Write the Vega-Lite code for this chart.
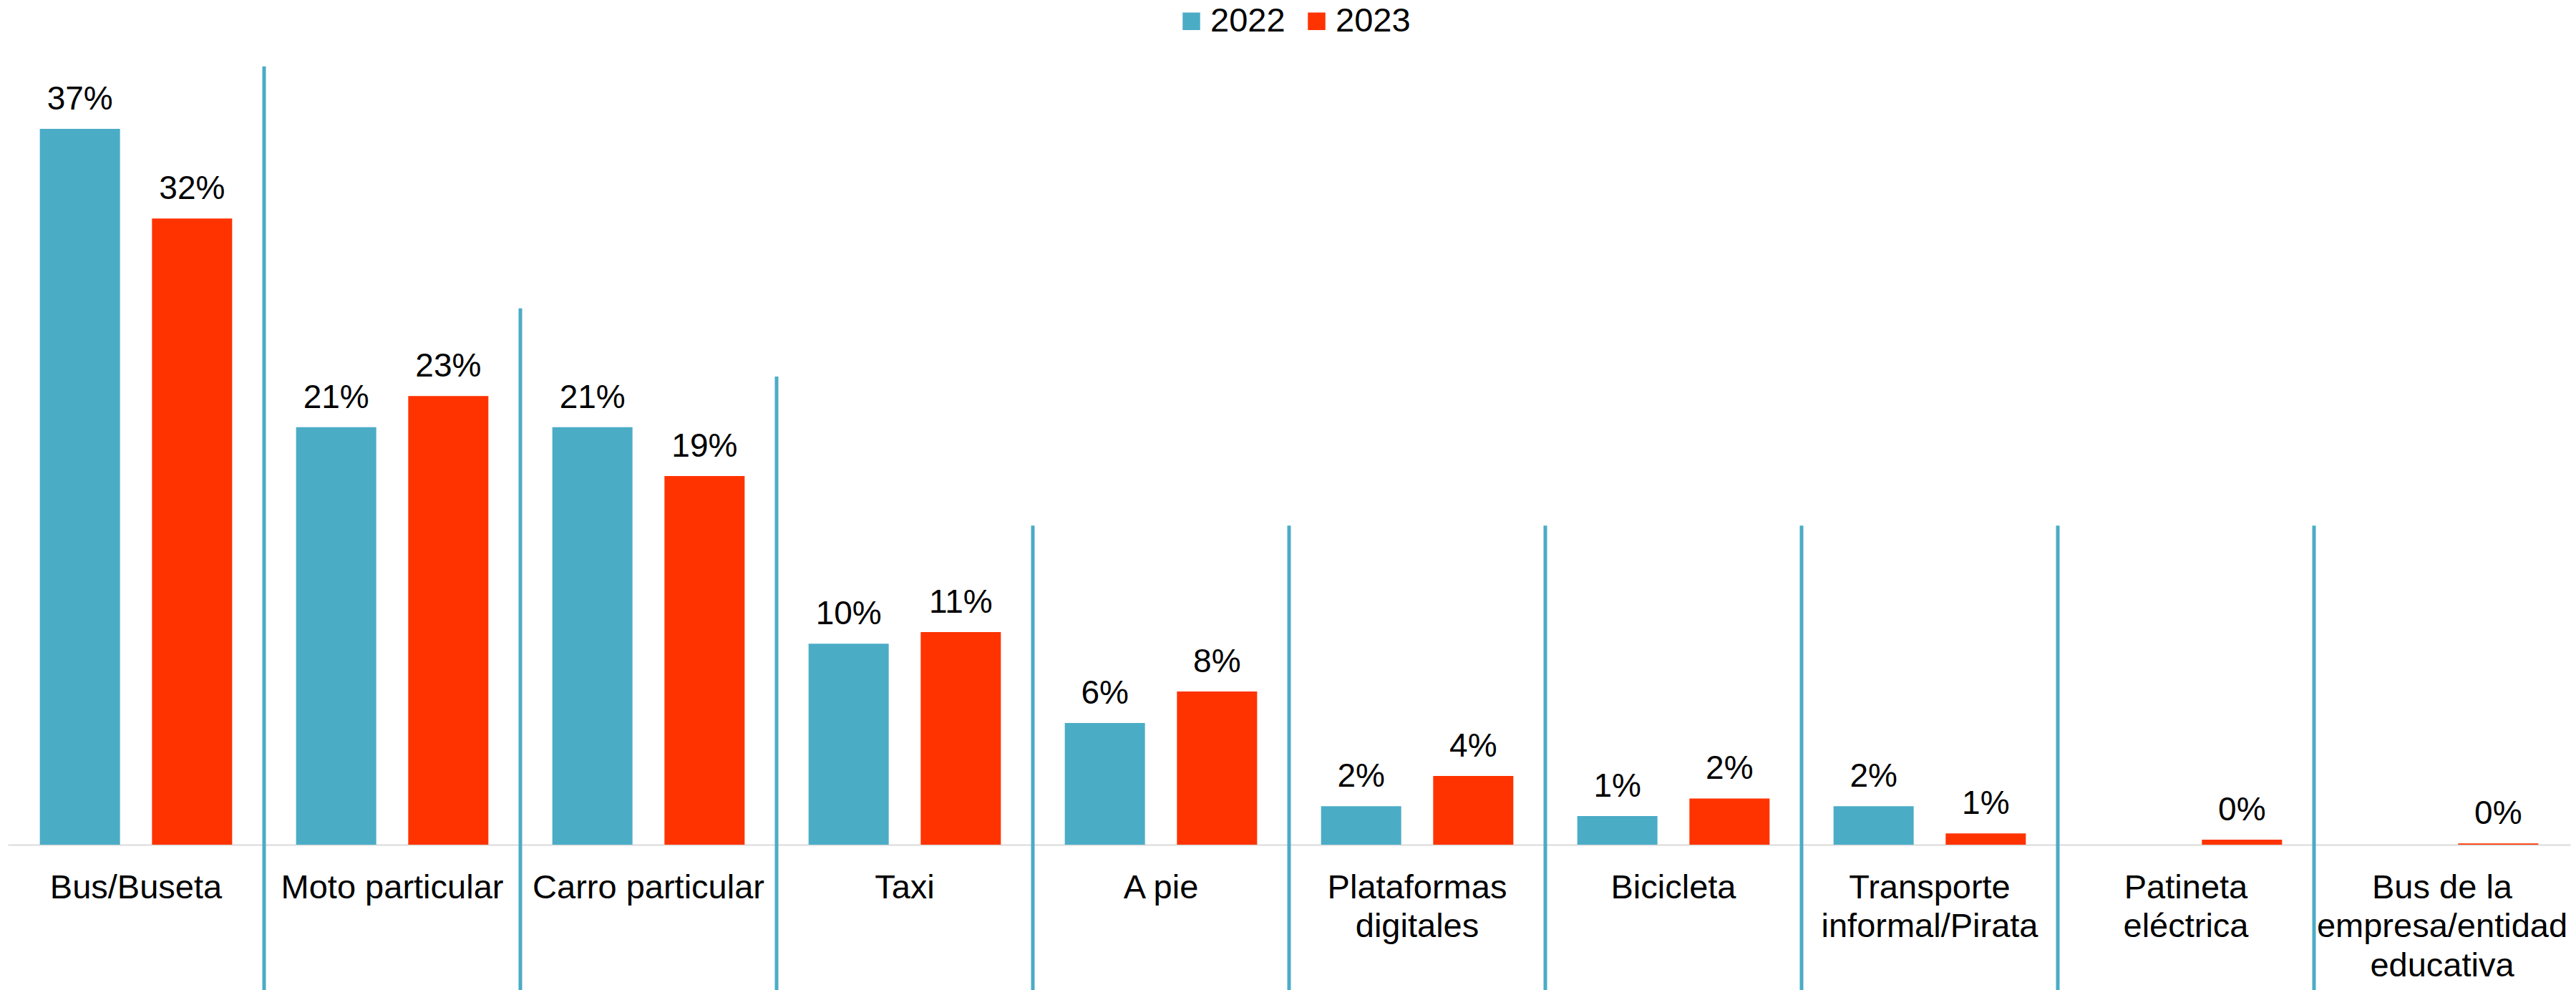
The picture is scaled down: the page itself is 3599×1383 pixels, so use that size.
{
  "$schema": "https://vega.github.io/schema/vega-lite/v6.json",
  "width": 3580,
  "height": 1090,
  "autosize": "none",
  "padding": {"left": 11, "top": 90, "right": 8, "bottom": 203},
  "background": "white",
  "config": {"view": {"stroke": null}, "font": "Liberation Sans"},
  "datasets": {
    "shares": [
      {"cat": "Bus/Buseta", "year": "2022", "value": 0.367},
      {"cat": "Bus/Buseta", "year": "2023", "value": 0.321},
      {"cat": "Moto particular", "year": "2022", "value": 0.214},
      {"cat": "Moto particular", "year": "2023", "value": 0.230},
      {"cat": "Carro particular", "year": "2022", "value": 0.214},
      {"cat": "Carro particular", "year": "2023", "value": 0.189},
      {"cat": "Taxi", "year": "2022", "value": 0.103},
      {"cat": "Taxi", "year": "2023", "value": 0.109},
      {"cat": "A pie", "year": "2022", "value": 0.0624},
      {"cat": "A pie", "year": "2023", "value": 0.0785},
      {"cat": "Plataformas digitales", "year": "2022", "value": 0.0197},
      {"cat": "Plataformas digitales", "year": "2023", "value": 0.0352},
      {"cat": "Bicicleta", "year": "2022", "value": 0.0147},
      {"cat": "Bicicleta", "year": "2023", "value": 0.0237},
      {"cat": "Transporte informal/Pirata", "year": "2022", "value": 0.0197},
      {"cat": "Transporte informal/Pirata", "year": "2023", "value": 0.0058},
      {"cat": "Patineta eléctrica", "year": "2023", "value": 0.0026},
      {"cat": "Bus de la empresa/entidad educativa", "year": "2023", "value": 0.0006}
    ],
    "separators": [
      {"cat": "Moto particular", "top": 0.399},
      {"cat": "Carro particular", "top": 0.275},
      {"cat": "Taxi", "top": 0.240},
      {"cat": "A pie", "top": 0.1636},
      {"cat": "Plataformas digitales", "top": 0.1636},
      {"cat": "Bicicleta", "top": 0.1636},
      {"cat": "Transporte informal/Pirata", "top": 0.1636},
      {"cat": "Patineta eléctrica", "top": 0.1636},
      {"cat": "Bus de la empresa/entidad educativa", "top": 0.1636}
    ]
  },
  "layer": [
    {
      "data": {"name": "separators"},
      "mark": {"type": "rule", "color": "#4BACC6", "strokeWidth": 5},
      "encoding": {
        "x": {
          "field": "cat", "type": "nominal", "bandPosition": 0,
          "scale": {"domain": ["Bus/Buseta", "Moto particular", "Carro particular", "Taxi", "A pie", "Plataformas digitales", "Bicicleta", "Transporte informal/Pirata", "Patineta eléctrica", "Bus de la empresa/entidad educativa"], "paddingInner": 0, "paddingOuter": 0},
          "axis": {"title": null, "ticks": false, "tickSize": 0, "domainColor": "#D9D9D9", "domainWidth": 2, "labelAngle": 0, "labelFont": "Liberation Sans", "labelFontSize": 47, "labelColor": "#000000", "labelPadding": 37, "labelLimit": 0, "labelOverlap": false, "labelBound": false, "labelFlush": false, "labelLineHeight": 54.5, "labelExpr": "datum.label == 'Plataformas digitales' ? ['Plataformas', 'digitales'] : datum.label == 'Transporte informal/Pirata' ? ['Transporte', 'informal/Pirata'] : datum.label == 'Patineta eléctrica' ? ['Patineta', 'eléctrica'] : datum.label == 'Bus de la empresa/entidad educativa' ? ['Bus de la', 'empresa/entidad', 'educativa'] : datum.label"}
        },
        "y": {"field": "top", "type": "quantitative", "scale": {"domain": [0, 0.4], "nice": false}, "axis": null},
        "y2": {"datum": -0.08}
      }
    },
    {
      "data": {"name": "shares"},
      "mark": {"type": "bar"},
      "encoding": {
        "x": {
          "field": "cat", "type": "nominal",
          "scale": {"domain": ["Bus/Buseta", "Moto particular", "Carro particular", "Taxi", "A pie", "Plataformas digitales", "Bicicleta", "Transporte informal/Pirata", "Patineta eléctrica", "Bus de la empresa/entidad educativa"], "paddingInner": 0, "paddingOuter": 0},
          "axis": {"title": null, "ticks": false, "tickSize": 0, "domainColor": "#D9D9D9", "domainWidth": 2, "labelAngle": 0, "labelFont": "Liberation Sans", "labelFontSize": 47, "labelColor": "#000000", "labelPadding": 37, "labelLimit": 0, "labelOverlap": false, "labelBound": false, "labelFlush": false, "labelLineHeight": 54.5, "labelExpr": "datum.label == 'Plataformas digitales' ? ['Plataformas', 'digitales'] : datum.label == 'Transporte informal/Pirata' ? ['Transporte', 'informal/Pirata'] : datum.label == 'Patineta eléctrica' ? ['Patineta', 'eléctrica'] : datum.label == 'Bus de la empresa/entidad educativa' ? ['Bus de la', 'empresa/entidad', 'educativa'] : datum.label"}
        },
        "xOffset": {"field": "year", "type": "nominal", "scale": {"domain": ["2022", "2023"], "paddingInner": 0.2851, "paddingOuter": 0.2851}},
        "y": {"field": "value", "type": "quantitative", "scale": {"domain": [0, 0.4], "nice": false}, "axis": null},
        "color": {
          "field": "year", "type": "nominal",
          "scale": {"domain": ["2022", "2023"], "range": ["#4BACC6", "#FF3300"]},
          "legend": {"title": null, "orient": "none", "legendX": 1630, "legendY": -84, "direction": "horizontal", "symbolType": "square", "symbolSize": 600, "symbolStrokeWidth": 0, "labelFont": "Liberation Sans", "labelFontSize": 47, "labelColor": "#000000", "labelOffset": 3, "columnPadding": 20, "padding": 0}
        }
      }
    },
    {
      "data": {"name": "shares"},
      "mark": {"type": "text", "baseline": "alphabetic", "align": "center", "dy": -27, "fontSize": 46, "font": "Liberation Sans", "color": "#000000"},
      "encoding": {
        "x": {
          "field": "cat", "type": "nominal",
          "scale": {"domain": ["Bus/Buseta", "Moto particular", "Carro particular", "Taxi", "A pie", "Plataformas digitales", "Bicicleta", "Transporte informal/Pirata", "Patineta eléctrica", "Bus de la empresa/entidad educativa"], "paddingInner": 0, "paddingOuter": 0},
          "axis": {"title": null, "ticks": false, "tickSize": 0, "domainColor": "#D9D9D9", "domainWidth": 2, "labelAngle": 0, "labelFont": "Liberation Sans", "labelFontSize": 47, "labelColor": "#000000", "labelPadding": 37, "labelLimit": 0, "labelOverlap": false, "labelBound": false, "labelFlush": false, "labelLineHeight": 54.5, "labelExpr": "datum.label == 'Plataformas digitales' ? ['Plataformas', 'digitales'] : datum.label == 'Transporte informal/Pirata' ? ['Transporte', 'informal/Pirata'] : datum.label == 'Patineta eléctrica' ? ['Patineta', 'eléctrica'] : datum.label == 'Bus de la empresa/entidad educativa' ? ['Bus de la', 'empresa/entidad', 'educativa'] : datum.label"}
        },
        "xOffset": {"field": "year", "type": "nominal", "scale": {"domain": ["2022", "2023"], "paddingInner": 0.2851, "paddingOuter": 0.2851}},
        "y": {"field": "value", "type": "quantitative", "scale": {"domain": [0, 0.4], "nice": false}, "axis": null},
        "text": {"field": "value", "type": "quantitative", "format": ".0%"}
      }
    }
  ]
}
